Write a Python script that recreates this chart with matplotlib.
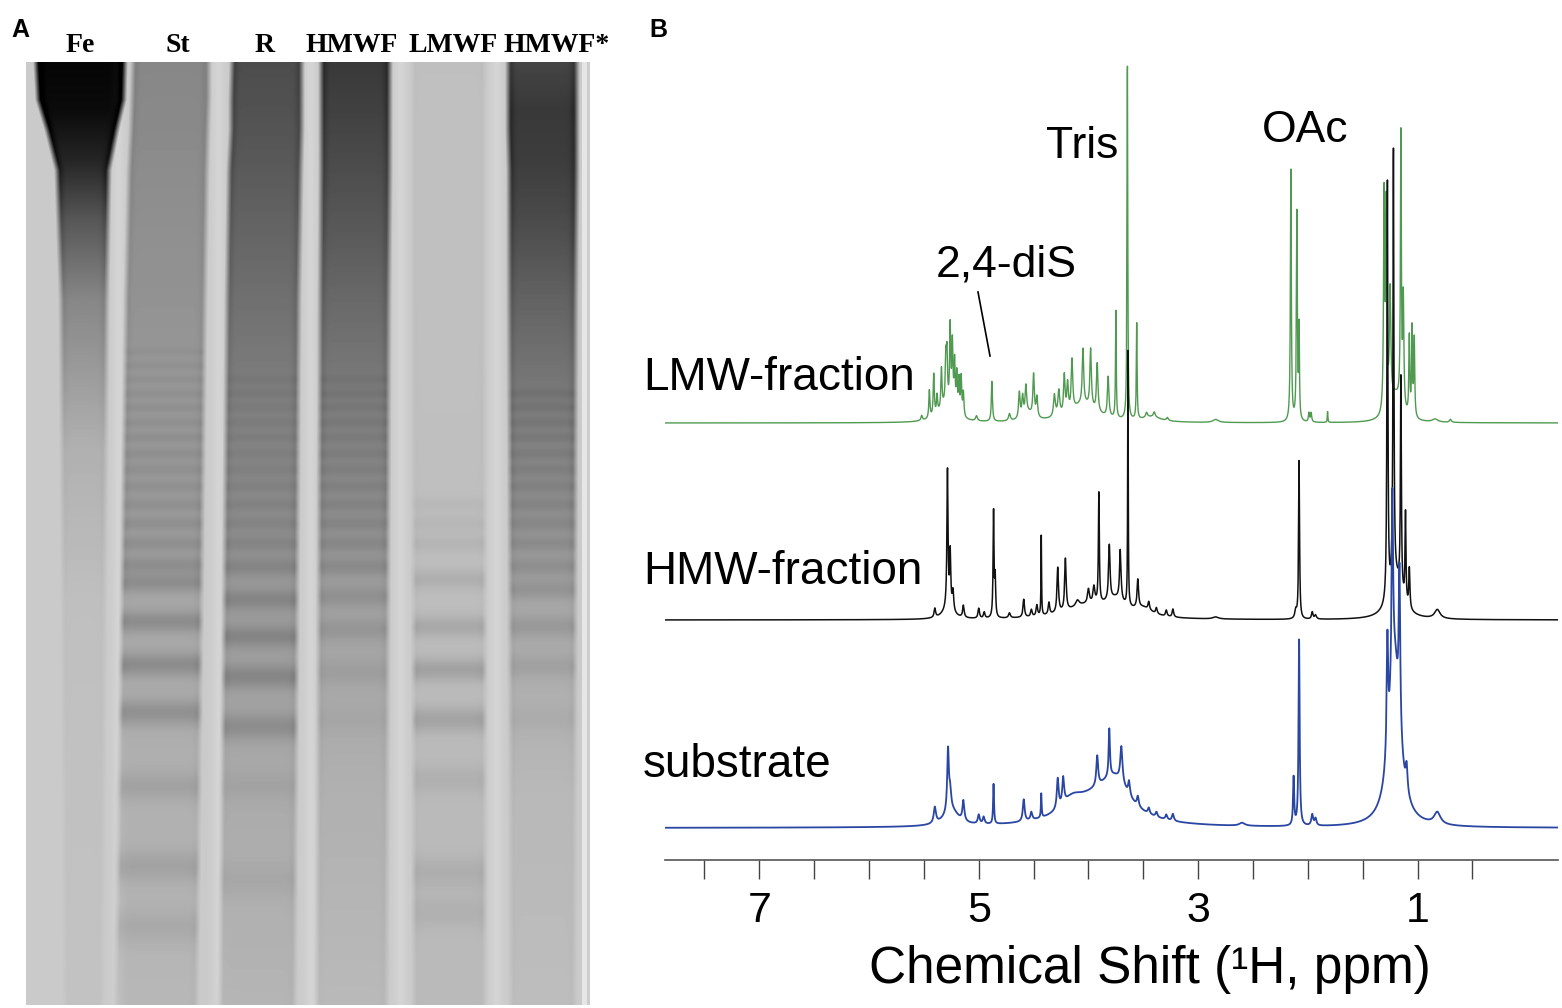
import numpy as np
import matplotlib.pyplot as plt
from matplotlib.lines import Line2D

plt.rcParams['font.family'] = ['Liberation Sans', 'DejaVu Sans']

W_PX, H_PX = 1562, 1008


def fx(x):
    return x / W_PX


def fy(y):
    return 1 - y / H_PX


# ---------------- panel A: gel (pixel rows / columns) ----------------
lane_names = ["Fe", "St", "R", "HMWF", "LMWF", "HMWF*"]
lane_label_x = [80, 178, 265, 352, 453, 557]

edge_rows = [62, 100, 130, 170, 300, 1005]
lane_left = {
    "Fe": [33, 35, 44, 54, 58, 62],
    "St": [130, 129, 128, 126, 123, 113],
    "R": [229, 228, 228, 226, 224, 217],
    "HMWF": [318, 318, 318, 318, 317, 314],
    "LMWF": [410, 410, 410, 410, 410, 411],
    "HMWF*": [505, 505, 505, 506, 506, 508],
}
lane_right = {
    "Fe": [128, 127, 120, 112, 110, 106],
    "St": [212, 212, 211, 210, 208, 200],
    "R": [305, 305, 305, 304, 302, 298],
    "HMWF": [393, 393, 393, 393, 392, 390],
    "LMWF": [488, 488, 488, 488, 488, 488],
    "HMWF*": [580, 580, 580, 580, 579, 578],
}

smear_rows = [62, 110, 160, 220, 300, 450, 600, 800, 1005]
smear_dark = {
    "Fe": [192, 186, 160, 110, 62, 20, 6, 3, 2],
    "St": [62, 60, 57, 54, 50, 42, 30, 20, 14],
    "R": [120, 115, 108, 98, 85, 62, 42, 26, 16],
    "HMWF": [140, 132, 122, 110, 92, 62, 36, 20, 12],
    "LMWF": [6, 5, 5, 5, 5, 6, 8, 10, 10],
    "HMWF*": [128, 140, 136, 122, 98, 62, 30, 12, 8],
}

band_rows = {
    "St": [352, 366, 380, 394, 408, 423, 438, 454, 470, 487, 505, 524, 544, 565,
           583, 622, 665, 713, 787, 867, 927],
    "R": [380, 394, 408, 423, 438, 454, 470, 487, 505, 524, 544, 567,
          600, 637, 677, 727, 787, 880],
    "HMWF": [380, 394, 408, 423, 438, 454, 470, 487, 505, 524, 544, 567,
             597, 630, 673, 720],
    "LMWF": [505, 524, 544, 580, 627, 670, 720, 780, 873, 913],
    "HMWF*": [394, 408, 423, 438, 454, 470, 487, 505, 524, 544, 567,
              590, 627, 667, 720],
}
band_dark = {
    "St": [5, 6, 7, 8, 9, 10, 11, 12, 13, 14, 15, 17, 19, 22,
           24, 27, 30, 27, 14, 16, 11],
    "R": [5, 6, 6, 7, 8, 9, 10, 11, 12, 13, 15, 18,
          22, 25, 27, 24, 7, 8],
    "HMWF": [6, 7, 8, 9, 10, 11, 12, 13, 14, 15, 16, 17,
             16, 14, 9, 5],
    "LMWF": [5, 7, 9, 14, 20, 26, 24, 11, 13, 10],
    "HMWF*": [8, 9, 10, 11, 12, 13, 14, 15, 16, 16, 17,
              17, 16, 12, 6],
}
gap_cols = [119, 219, 311, 401, 497]

gel_x0, gel_x1, gel_y0, gel_y1 = 26, 590, 62, 1005
cols = np.arange(gel_x0, gel_x1) + 0.5
rows = np.arange(gel_y0, gel_y1) + 0.5
X, Y = np.meshgrid(cols, rows)

gel = np.full(X.shape, 203.0)
for c in gap_cols:
    gel += 9 * np.exp(-0.5 * ((X - c) / 4.0) ** 2)

for name in lane_names:
    xl = np.interp(rows, edge_rows, lane_left[name])[:, None]
    xr = np.interp(rows, edge_rows, lane_right[name])[:, None]
    mask = np.clip((X - xl) / 6.0, 0, 1) * np.clip((xr - X) / 6.0, 0, 1)
    rim = np.exp(-0.5 * ((X - xl - 5) / 3.0) ** 2) + np.exp(-0.5 * ((xr - 5 - X) / 3.0) ** 2)
    dark = np.interp(rows, smear_rows, smear_dark[name])[:, None] + 6.0
    prof = np.zeros_like(rows)
    for r, d in zip(band_rows.get(name, []), band_dark.get(name, [])):
        sig = np.clip(2.6 + 0.018 * (r - 350), 2.6, 13)
        prof += d * np.exp(-0.5 * ((rows - r) / sig) ** 2)
    dark = dark + prof[:, None]
    gel -= mask * dark * (1 + 0.12 * rim)

# right edge of the gel slab
gel[:, cols > 582] = 230
gel[:, (cols > 587)] = 205
gel = np.clip(gel, 0, 255)

fig = plt.figure(figsize=(W_PX / 100, H_PX / 100), dpi=100)
ax_gel = fig.add_axes([fx(gel_x0), fy(gel_y1), (gel_x1 - gel_x0) / W_PX,
                       (gel_y1 - gel_y0) / H_PX])
ax_gel.imshow(gel, cmap="gray", vmin=0, vmax=255, aspect="auto",
              extent=(gel_x0, gel_x1, gel_y1, gel_y0), interpolation="bilinear")
ax_gel.axis("off")

fig.text(fx(20), fy(30), "A", fontsize=18, fontweight="bold", ha="center", va="center")
for name, x in zip(lane_names, lane_label_x):
    fig.text(fx(x), fy(46), name, fontsize=20, fontweight="bold", ha="center", va="center",
             family=["Liberation Serif", "DejaVu Serif"])

# ---------------- panel B: 1H NMR spectra ----------------
# peaks: centre (ppm), height (px above own baseline), half width (ppm)
lmw_ppm = [5.52, 5.45, 5.41, 5.38, 5.34, 5.30, 5.29, 5.26, 5.24, 5.22, 5.20, 5.18, 5.16, 5.14,
           5.30, 5.02, 4.88, 4.72, 4.63, 4.60, 4.57, 4.50, 4.47, 4.55, 4.31, 4.27, 4.22, 4.19,
           4.15, 4.05, 3.98, 3.92, 3.82, 4.05, 3.75, 3.645, 3.56, 3.47, 3.40, 3.28, 3.42,
           2.84, 2.155, 2.10, 2.08, 1.99, 1.97, 1.82,
           1.305, 1.285, 1.25, 1.152, 1.13, 1.075, 1.05, 1.03, 1.2, 0.84, 0.70]
lmw_height = [5, 28, 42, 18, 40, 44, 48, 80, 64, 48, 38, 34, 38, 24,
              16, 5, 40, 7, 26, 20, 28, 42, 20, 8, 22, 25, 38, 28,
              50, 55, 58, 48, 40, 18, 108, 356, 96, 5, 5, 3, 5,
              3, 252, 208, 90, 9, 9, 11,
              215, 200, 115, 272, 110, 78, 88, 78, 25, 3, 3]
lmw_width = [0.008, 0.006, 0.006, 0.006, 0.006, 0.006, 0.006, 0.006, 0.006, 0.006, 0.006, 0.006,
             0.006, 0.006, 0.08, 0.01, 0.006, 0.01, 0.008, 0.008, 0.008, 0.008, 0.008, 0.05,
             0.01, 0.01, 0.008, 0.008, 0.008, 0.008, 0.008, 0.008, 0.008, 0.15, 0.004, 0.004,
             0.004, 0.01, 0.01, 0.01, 0.1, 0.03, 0.005, 0.005, 0.004, 0.006, 0.006, 0.003,
             0.006, 0.006, 0.008, 0.005, 0.006, 0.005, 0.005, 0.005, 0.06, 0.03, 0.01]

hmw_ppm = [5.40, 5.285, 5.26, 5.235, 5.14, 5.00, 4.95, 4.865, 4.85, 4.72, 4.59, 4.52, 4.47,
           4.43, 4.36, 4.28, 4.21, 4.10, 4.00, 3.95, 3.905, 3.81, 3.71, 3.64, 3.55, 3.45, 3.38,
           3.29, 3.23, 5.28, 4.0, 3.75, 3.5, 2.84, 2.11, 2.08, 1.96, 1.93,
           1.275, 1.22, 1.152, 1.11, 1.075, 1.2, 0.82]
hmw_height = [9, 138, 55, 20, 12, 10, 6, 106, 38, 5, 18, 7, 11,
              80, 12, 45, 52, 6, 14, 16, 110, 55, 50, 255, 28, 8, 6,
              6, 8, 10, 14, 14, 8, 2, 8, 158, 7, 4,
              420, 430, 215, 90, 40, 40, 9]
hmw_width = [0.008, 0.006, 0.006, 0.008, 0.008, 0.008, 0.008, 0.005, 0.005, 0.01, 0.008,
             0.008, 0.008, 0.003, 0.008, 0.008, 0.008, 0.02, 0.01, 0.01, 0.005, 0.008, 0.008,
             0.003, 0.008, 0.008, 0.008, 0.008, 0.008, 0.06, 0.25, 0.1, 0.1, 0.03, 0.01, 0.005,
             0.008, 0.01, 0.005, 0.005, 0.005, 0.005, 0.006, 0.07, 0.03]

sub_ppm = [5.40, 5.28, 5.26, 5.14, 5.00, 4.955, 4.865, 4.59, 4.52, 4.43, 4.28, 4.23, 3.92,
           3.81, 3.70, 3.63, 3.55, 3.45, 3.38, 3.29, 3.23, 5.25, 3.9, 3.75, 4.15,
           2.6, 2.13, 2.08, 1.96, 1.93, 1.275, 1.23, 1.165, 1.10, 1.21, 0.82]
sub_height = [16, 62, 18, 20, 9, 7, 40, 22, 8, 24, 30, 26, 30,
              48, 36, 14, 10, 6, 5, 5, 7, 16, 28, 28, 14,
              3, 48, 186, 11, 7, 115, 185, 155, 25, 165, 12]
sub_width = [0.012, 0.009, 0.01, 0.01, 0.01, 0.01, 0.005, 0.01, 0.01, 0.004, 0.01, 0.01, 0.01,
             0.007, 0.012, 0.01, 0.01, 0.01, 0.01, 0.01, 0.01, 0.08, 0.3, 0.14, 0.12,
             0.03, 0.006, 0.006, 0.01, 0.01, 0.008, 0.008, 0.008, 0.01, 0.06, 0.035]

spectra = [("LMW-fraction", lmw_ppm, lmw_height, lmw_width, 437, "#4f9a50", 1.0, 378),
           ("HMW-fraction", hmw_ppm, hmw_height, hmw_width, 240, "#111111", 1.1, 572),
           ("substrate", sub_ppm, sub_height, sub_width, 32, "#2a46a3", 1.3, 765)]

ax = fig.add_axes([fx(665), fy(860), (1558 - 665) / W_PX, 800 / H_PX])
ppm = np.linspace(-0.3, 7.9, 9000)
for label, c, h, w, base, color, lw, label_y in spectra:
    c = np.array(c)[:, None]
    h = np.array(h)[:, None]
    w = np.array(w)[:, None]
    trace = base + (h * w ** 2 / ((ppm - c) ** 2 + w ** 2)).sum(axis=0)
    ax.plot(ppm, trace, color=color, lw=lw)
    fig.text(fx(643), fy(label_y), label, fontsize=33, ha="left", va="center")

ax.set_xlim(7.86, -0.28)
ax.set_ylim(0, 800)
ticks = np.arange(0.5, 7.6, 0.5)
ax.set_xticks(ticks)
ax.set_xticklabels([str(int(t)) if t in (1, 3, 5, 7) else "" for t in ticks])
ax.tick_params(axis="x", direction="out", length=14, width=1, color="#444444",
               pad=8, labelsize=31)
ax.set_yticks([])
for side in ["top", "left", "right"]:
    ax.spines[side].set_visible(False)
ax.spines["bottom"].set_linewidth(1.2)
ax.spines["bottom"].set_color("#555555")
ax.patch.set_alpha(0)

fig.text(fx(1150), fy(970), "Chemical Shift (\u00b9H, ppm)", fontsize=37, ha="center", va="center")
fig.text(fx(658), fy(30), "B", fontsize=18, fontweight="bold", ha="center", va="center")
fig.text(fx(1006), fy(265), "2,4-diS", fontsize=32, ha="center", va="center")
fig.text(fx(1082), fy(147), "Tris", fontsize=32, ha="center", va="center")
fig.text(fx(1305), fy(130), "OAc", fontsize=32, ha="center", va="center")
fig.add_artist(Line2D([fx(978), fx(990)], [fy(292), fy(356)], transform=fig.transFigure,
                      color="black", lw=1.2))

fig.savefig("out.png", dpi=100)
